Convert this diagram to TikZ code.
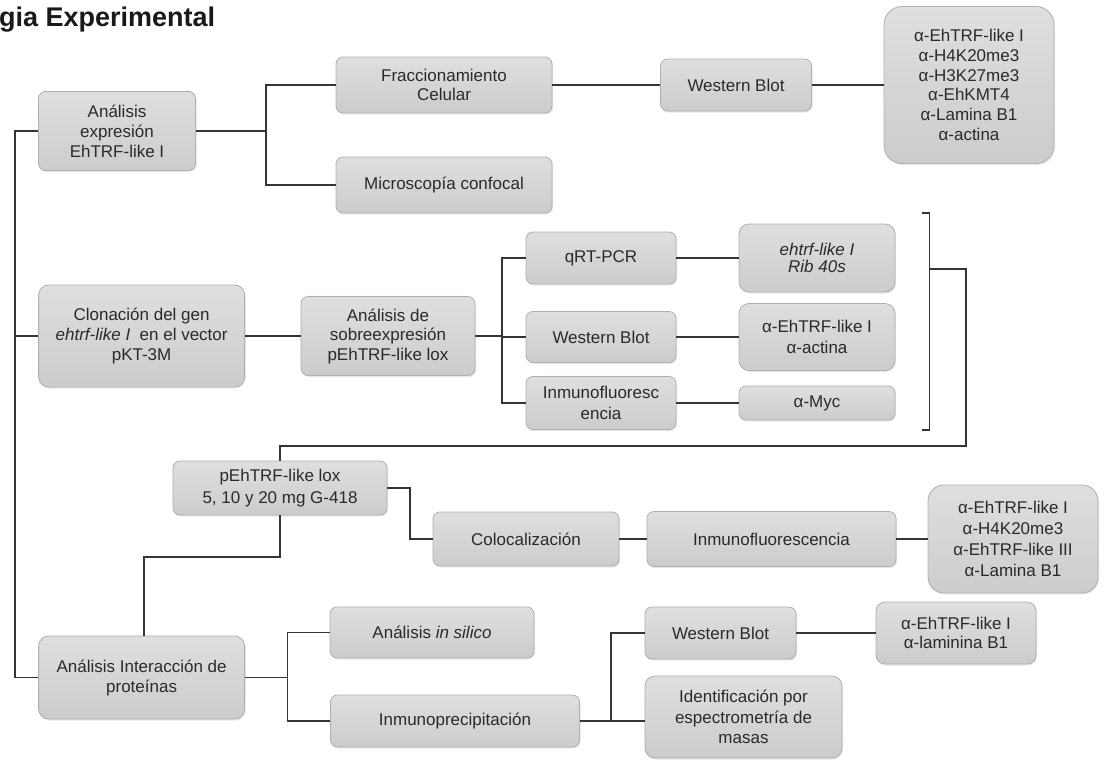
\documentclass[tikz,border=0pt]{standalone}
\usepackage{fontspec}
\setmainfont{Liberation Sans}
\usetikzlibrary{shadows}
\definecolor{boxtop}{HTML}{DDE0DD}
\definecolor{boxbot}{HTML}{CACDCA}
\definecolor{boxline}{HTML}{ADB0AD}
\definecolor{conn}{HTML}{353535}
\definecolor{txt}{HTML}{2A2A2A}
\begin{document}
\begin{tikzpicture}[x=1pt,y=-1pt,
  box/.style={draw=boxline, line width=0.8pt, rounded corners=7pt,
    top color=boxtop, bottom color=boxbot, text=txt, align=center,
    inner sep=0pt, font=\fontsize{17}{20}\selectfont,
    drop shadow={opacity=0.18,shadow xshift=1pt,shadow yshift=-1.5pt}},
  sz/.style 2 args={minimum width=#1pt, minimum height=#2pt},
  lead/.style={font=\fontsize{17}{#1}\selectfont},
  conn/.style={draw=conn, line width=1.3pt},
  titletext/.style={font=\bfseries\fontsize{27}{32}\selectfont, text=black!90, inner sep=0pt}]
\useasboundingbox (0,0) rectangle (1104,761);
\fill[white] (0,0) rectangle (1104,761);

\node[titletext, anchor=base west] (title) at (-1,26) {gia Experimental};

% nodes
\node[box, sz={157}{79}] (AE) at (117,131) {Análisis\\expresión\\EhTRF-like I};
\node[box, sz={216}{56}, lead=18.3] (Fr) at (444,85) {Fraccionamiento\\Celular};
\node[box, sz={216}{56}] (Mi) at (444,185) {Microscopía confocal};
\node[box, sz={151}{52}] (WB1) at (736,85) {Western Blot};
\node[box, sz={170}{157}, rounded corners=18pt, lead=19.7] (AB1) at (969,85)
  {α-EhTRF-like I\\α-H4K20me3\\α-H3K27me3\\α-EhKMT4\\α-Lamina B1\\α-actina};

\node[box, sz={206}{102}, rounded corners=10pt] (Clon) at (141.6,336)
  {Clonación del gen\\\textit{ehtrf-like I}~ en el vector\\pKT-3M};
\node[box, sz={174}{79}, lead=19.5] (Sobre) at (388,336) {Análisis de\\sobreexpresión\\pEhTRF-like lox};
\node[box, sz={150}{52}] (qRT) at (601,258) {qRT-PCR};
\node[box, sz={156}{68}, rounded corners=10pt, lead=17] (ehtrf) at (817,258) {\textit{ehtrf-like I}\\\textit{Rib 40s}};
\node[box, sz={150}{51}] (WB2) at (601,337) {Western Blot};
\node[box, sz={156}{67}, rounded corners=10pt, lead=21] (AB2) at (817,337) {α-EhTRF-like I\\α-actina};
\node[box, sz={150}{53}, lead=21.5] (IF) at (601,403) {Inmunofluoresc\\encia};
\node[box, sz={156}{34}] (Myc) at (817,403) {α-Myc};

\node[box, sz={214}{54}, lead=22] (pEh) at (280,488) {pEhTRF-like lox\\5, 10 y 20 mg G-418};
\node[box, sz={186}{54}] (Coloc) at (526,539) {Colocalización};
\node[box, sz={249}{55}] (IF2) at (771.5,539) {Inmunofluorescencia};
\node[box, sz={170}{108}, rounded corners=16pt, lead=21] (AB3) at (1013,539)
  {α-EhTRF-like I\\α-H4K20me3\\α-EhTRF-like III\\α-Lamina B1};

\node[box, sz={206}{83}, rounded corners=10pt] (AIP) at (141.6,677.5) {Análisis Interacción de\\proteínas};
\node[box, sz={204}{51}] (InSil) at (432,632.5) {Análisis \textit{in silico}};
\node[box, sz={249}{52}] (Inmu) at (455,721) {Inmunoprecipitación};
\node[box, sz={151}{52}] (WB3) at (720.5,633) {Western Blot};
\node[box, sz={160}{62}, rounded corners=9pt, lead=18.5] (AB4) at (956,633) {α-EhTRF-like I\\α-laminina B1};
\node[box, sz={197}{82}, rounded corners=10pt, lead=20.5] (Ident) at (743.5,717) {Identificación por\\espectrometría de\\masas};

% junction coordinates
\coordinate (trunk) at (15,0);
\coordinate (j1) at (266,0);
\coordinate (j2) at (502,0);
\coordinate (bt) at (929.5,213);
\coordinate (bb) at (929.5,430);
\coordinate (bx) at (966,446);
\coordinate (pj) at (410,0);
\coordinate (aj) at (144,557);
\coordinate (j4) at (287.5,0);
\coordinate (j5) at (611,0);

% connectors
\draw[conn] (AE.west) -- (AE.west -| trunk) -- (AIP.west -| trunk) -- (AIP.west);
\draw[conn] (Clon.west) -- (Clon.west -| trunk);

\draw[conn] (AE.east) -- (AE.east -| j1);
\draw[conn] (Fr.west) -- (Fr.west -| j1) -- (Mi.west -| j1) -- (Mi.west);
\draw[conn] (Fr.east) -- (WB1.west);
\draw[conn] (WB1.east) -- (AB1.west);

\draw[conn] (Clon.east) -- (Sobre.west);
\draw[conn] (Sobre.east) -- (Sobre.east -| j2);
\draw[conn] (qRT.west) -- (qRT.west -| j2) -- (IF.west -| j2) -- (IF.west);
\draw[conn] (WB2.west) -- (WB2.west -| j2);
\draw[conn] (qRT.east) -- (ehtrf.west);
\draw[conn] (WB2.east) -- (AB2.west);
\draw[conn] (IF.east) -- (Myc.west);

% bracket and return line
\draw[conn, line width=1.1pt] ([xshift=-8pt]bt) -- (bt) -- (bb) -- ([xshift=-8pt]bb);
\draw[conn] (bt |- 0,269) -- (bx |- 0,269) -- (bx) -- (bx -| pEh.north) -- (pEh.north);

\draw[conn] (pEh.east) -- (pEh.east -| pj) -- (Coloc.west -| pj) -- (Coloc.west);
\draw[conn] (Coloc.east) -- (IF2.west);
\draw[conn] (IF2.east) -- (AB3.west);
\draw[conn] (pEh.south) -- (pEh.south |- aj) -- (aj) -- (aj |- AIP.north);

\draw[conn] (AIP.east) -- (AIP.east -| j4);
\draw[conn] (InSil.west) -- (InSil.west -| j4) -- (Inmu.west -| j4) -- (Inmu.west);
\draw[conn] (Inmu.east) -- (Inmu.east -| Ident.west);
\draw[conn] (WB3.west) -- (WB3.west -| j5) -- (Inmu.east -| j5);
\draw[conn] (WB3.east) -- (AB4.west);
\end{tikzpicture}
\end{document}
